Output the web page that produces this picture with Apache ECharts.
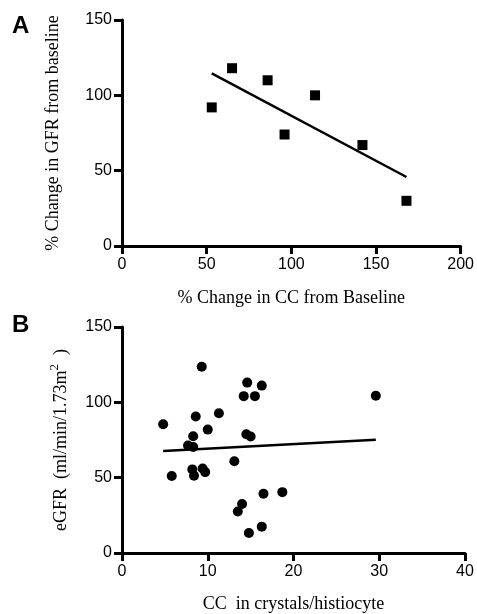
<!DOCTYPE html>
<html>
<head>
<meta charset="utf-8">
<script src="https://cdn.jsdelivr.net/npm/echarts@6/dist/echarts.min.js"></script>
<style>
html,body{margin:0;padding:0;background:#fff;}
#main{width:477px;height:614px;}
</style>
</head>
<body>
<div id="main"></div>
<script>
// Panel A data: % change in CC vs % change in GFR
const aCC = [53, 65, 86, 96, 114, 142, 168];
const aGFR = [92, 118, 110, 74, 100, 67, 30];
const aFitX = [53, 168];
const aFitY = [114.6, 45.8];
const aXTicks = [0, 50, 100, 150, 200];
const aYTicks = [0, 50, 100, 150];

// Panel B data: CC (crystals/histiocyte) vs eGFR
const bCC = [4.8, 5.8, 9.3, 8.6, 11.3, 10.0, 8.3, 7.7, 8.3, 8.2, 8.4, 9.4, 9.7, 13.1, 14.6, 14.2, 15.5, 16.3, 14.5, 15.0, 14.0, 13.5, 16.5, 18.7, 14.8, 16.3, 29.6];
const bGFR = [85.4, 51.1, 123.6, 90.6, 92.8, 81.9, 77.5, 71.4, 70.3, 55.5, 51.3, 56.1, 53.7, 60.9, 113.1, 104.1, 104.1, 111.1, 78.8, 77.3, 32.5, 27.5, 39.3, 40.4, 13.3, 17.5, 104.4];
const bFitX = [4.8, 29.6];
const bFitY = [67.7, 75.1];
const bXTicks = [0, 10, 20, 30, 40];
const bYTicks = [0, 50, 100, 150];

const zip = (xs, ys) => xs.map((x, i) => [x, ys[i]]);

const chart = echarts.init(document.getElementById('main'), null, {renderer: 'canvas'});

const serifName = {color: '#000', fontFamily: 'Liberation Serif', fontSize: 18};

function axisBase(ticks, isY) {
  return {
    type: 'value',
    min: ticks[0],
    max: ticks[ticks.length - 1],
    interval: ticks[1] - ticks[0],
    splitLine: {show: false},
    axisLine: {show: true, onZero: false, lineStyle: {color: '#000', width: 3}},
    axisTick: {show: true, length: 8, lineStyle: {color: '#000', width: 3}},
    axisLabel: {color: '#000', fontFamily: 'Liberation Sans', fontSize: 16, margin: isY ? 10 : 11},
    nameLocation: 'middle',
    nameTextStyle: serifName
  };
}

chart.setOption({
  animation: false,
  backgroundColor: '#fff',
  grid: [
    {left: 122, top: 20, width: 340, height: 226},
    {left: 122, top: 327, width: 343, height: 229}
  ],
  xAxis: [
    Object.assign(axisBase(aXTicks, false), {gridIndex: 0, name: '% Change in CC from Baseline', nameGap: 43}),
    Object.assign(axisBase(bXTicks, false), {gridIndex: 1, name: 'CC  in crystals/histiocyte', nameGap: 42})
  ],
  yAxis: [
    Object.assign(axisBase(aYTicks, true), {gridIndex: 0, name: '% Change in GFR from baseline', nameGap: 60}),
    Object.assign(axisBase(bYTicks, true), {gridIndex: 1, name: 'eGFR  (ml/min/1.73m{sup|2}  )', nameGap: 48,
      nameTextStyle: Object.assign({}, serifName, {rich: {sup: {fontFamily: 'Liberation Serif', fontSize: 13, color: '#000', verticalAlign: 'top', padding: [0, 0, 13, 0]}}})})
  ],
  graphic: [
    {type: 'text', left: 12, top: 14, style: {text: 'A', font: 'bold 24px "Liberation Sans"', fill: '#000'}},
    {type: 'text', left: 12, top: 313, style: {text: 'B', font: 'bold 24px "Liberation Sans"', fill: '#000'}}
  ],
  series: [
    {type: 'scatter', xAxisIndex: 0, yAxisIndex: 0, symbol: 'rect', symbolSize: 10,
      itemStyle: {color: '#000', opacity: 1}, data: zip(aCC, aGFR)},
    {type: 'line', xAxisIndex: 0, yAxisIndex: 0, showSymbol: false, symbol: 'none',
      lineStyle: {color: '#000', width: 2.5}, data: zip(aFitX, aFitY)},
    {type: 'scatter', xAxisIndex: 1, yAxisIndex: 1, symbol: 'circle', symbolSize: 10,
      itemStyle: {color: '#000', opacity: 1}, data: zip(bCC, bGFR)},
    {type: 'line', xAxisIndex: 1, yAxisIndex: 1, showSymbol: false, symbol: 'none',
      lineStyle: {color: '#000', width: 2.5}, data: zip(bFitX, bFitY)}
  ]
});
</script>
</body>
</html>
